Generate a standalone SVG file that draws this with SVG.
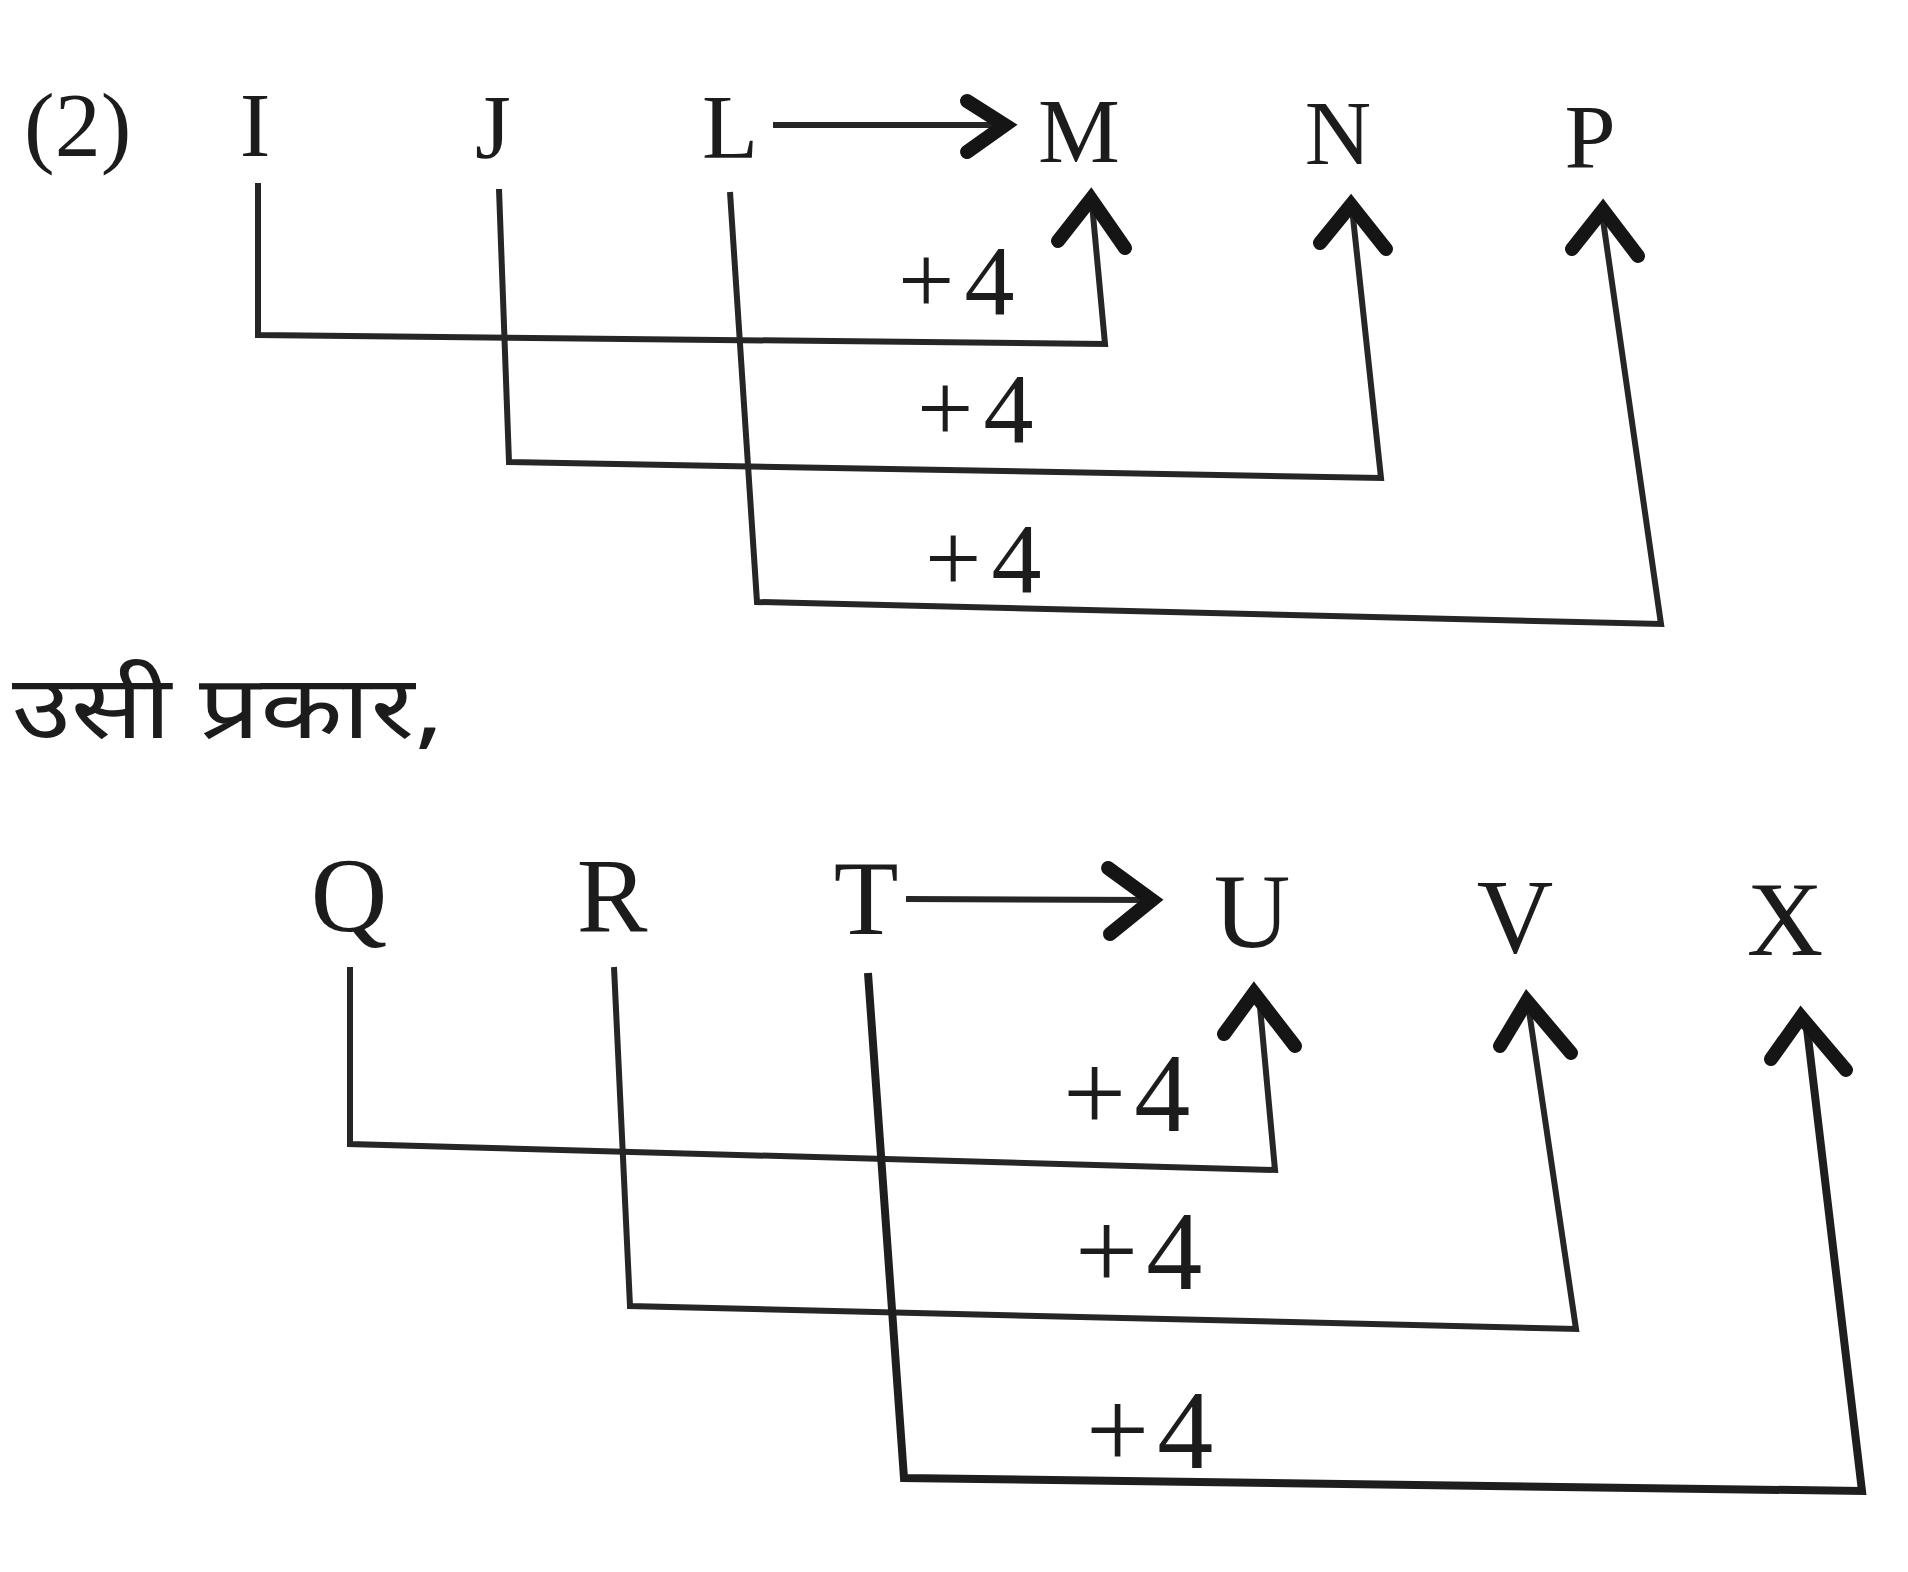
<svg xmlns="http://www.w3.org/2000/svg" width="1908" height="1572" viewBox="0 0 1908 1572">
<style>
.lt{font-family:"Liberation Serif","Times New Roman",serif;fill:#1c1c1c;text-anchor:middle}
.t1{font-size:92px}
.t2{font-size:106px}
.p2{font-family:"Liberation Serif","Times New Roman",serif;fill:#1c1c1c;font-size:92px}
.lbl{font-family:"Liberation Serif","Times New Roman",serif;fill:#1c1c1c;font-size:100px;letter-spacing:10px}
.lbl2{font-family:"Liberation Serif","Times New Roman",serif;fill:#1c1c1c;font-size:112px;letter-spacing:8px}
.ln{fill:none;stroke:#262626;stroke-width:6;stroke-linejoin:miter}
.ln2{fill:none;stroke:#1e1e1e;stroke-width:8}
.hd{fill:none;stroke:#151515;stroke-width:14;stroke-linecap:round;stroke-linejoin:miter}
.hi{font-family:"Noto Sans Devanagari","Noto Sans","Lohit Devanagari",sans-serif;font-size:88px;fill:#1c1c1c}
</style>
<rect width="1908" height="1572" fill="#ffffff"/>
<g id="label-2"><text class="p2" x="24" y="156">(2)</text></g>
<g id="node-I"><text class="lt t1" x="255" y="156">I</text></g>
<g id="node-J"><text class="lt t1" x="493" y="158">J</text></g>
<g id="node-L"><text class="lt t1" x="730" y="158">L</text></g>
<g id="node-M"><text class="lt t1" x="1079" y="162">M</text></g>
<g id="node-N"><text class="lt t1" x="1338" y="164">N</text></g>
<g id="node-P"><text class="lt t1" x="1590" y="168">P</text></g>
<g id="hindi"><text class="hi" transform="translate(12 738) scale(1.22 1)" x="0" y="0">उसी प्रकार,</text></g>
<g id="node-Q"><text class="lt t2" x="349" y="931">Q</text></g>
<g id="node-R"><text class="lt t2" x="612" y="931">R</text></g>
<g id="node-T"><text class="lt t2" x="866" y="934">T</text></g>
<g id="node-U"><text class="lt t2" x="1252" y="947">U</text></g>
<g id="node-V"><text class="lt t2" x="1515" y="952">V</text></g>
<g id="node-X"><text class="lt t2" x="1785" y="955">X</text></g>
<g id="connectors">
<path class="ln" d="M773 125 L1000 125"/>
<path class="hd" d="M967 101 L1005 125 L967 152"/>
<path class="ln" d="M258 183 L258 335 L1105 344 L1092 204"/>
<path class="hd" d="M1058 241 L1091 199 L1125 248"/>
<path class="ln" d="M499 189 L509 462 L1381 478 L1352 208"/>
<path class="hd" d="M1320 243 L1351 205 L1386 249"/>
<path class="ln" d="M730 192 L757 602 L1661 624 L1602 213"/>
<path class="hd" d="M1572 249 L1603 210 L1638 256"/>
<text class="lbl" x="898" y="314">+4</text>
<text class="lbl" x="917" y="442">+4</text>
<text class="lbl" x="925" y="592">+4</text>
<path class="ln" d="M906 899 L1150 900"/>
<path class="hd" d="M1108 868 L1152 900 L1110 934"/>
<path class="ln" d="M350 967 L350 1144 L1275 1170 L1259 996"/>
<path class="hd" d="M1224 1034 L1254 993 L1295 1046"/>
<path class="ln" d="M614 967 L630 1306 L1576 1329 L1528 1004"/>
<path class="hd" d="M1500 1046 L1527 1001 L1571 1053"/>
<path class="ln2" d="M868 973 L904 1478 L1862 1491 L1806 1020"/>
<path class="hd" d="M1771 1059 L1801 1017 L1846 1070"/>
<text class="lbl2" x="1063" y="1131">+4</text>
<text class="lbl2" x="1075" y="1289">+4</text>
<text class="lbl2" x="1086" y="1468">+4</text>
</g>
</svg>
